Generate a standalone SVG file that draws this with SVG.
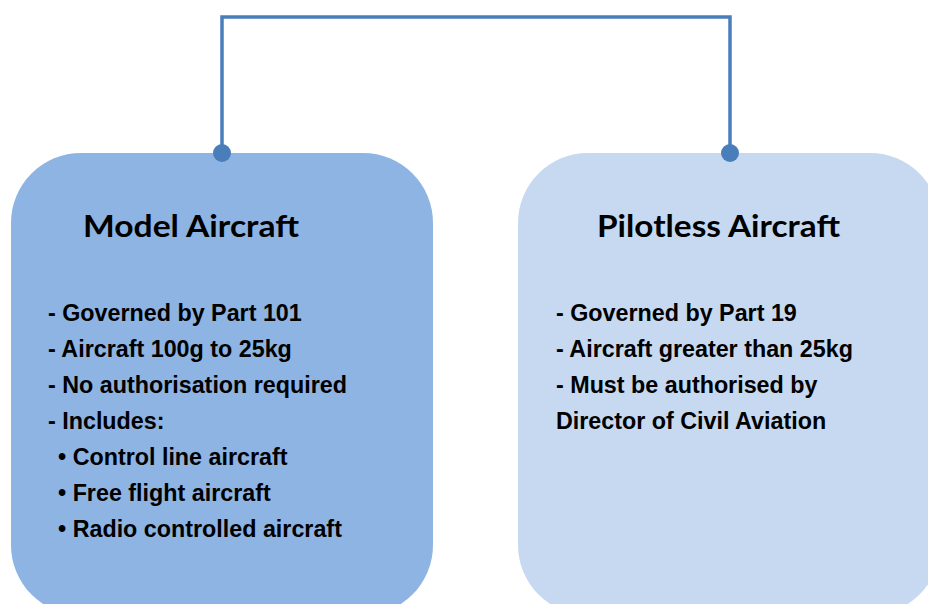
<svg xmlns="http://www.w3.org/2000/svg" width="928" height="604" viewBox="0 0 928 604">
<style>
.title{font-family:Lato,"Open Sans",sans-serif;font-weight:bold;font-size:31px;fill:#000}
.body{font-family:"Liberation Sans",Arial,sans-serif;font-weight:bold;font-size:23.3px;fill:#000}
.conn{fill:none;stroke:#4A7EBB;stroke-width:3.5}
.dot{fill:#4A7EBB}
</style>
<rect width="928" height="604" fill="#fff"/>
<g id="model-aircraft">
<rect x="11" y="153" width="422" height="462" rx="70" ry="70" fill="#8EB4E3"/>
<text class="title" x="83" y="237" textLength="216" lengthAdjust="spacingAndGlyphs">Model Aircraft</text>
<text class="body" x="48" y="321">- Governed by Part 101</text>
<text class="body" x="48" y="357">- Aircraft 100g to 25kg</text>
<text class="body" x="48" y="393">- No authorisation required</text>
<text class="body" x="48" y="429">- Includes:</text>
<text class="body" x="58" y="465">• Control line aircraft</text>
<text class="body" x="58" y="501">• Free flight aircraft</text>
<text class="body" x="58" y="537">• Radio controlled aircraft</text>
</g>
<g id="pilotless-aircraft">
<rect x="518" y="153" width="422" height="462" rx="70" ry="70" fill="#C6D9F1"/>
<text class="title" x="597" y="237" textLength="243" lengthAdjust="spacingAndGlyphs">Pilotless Aircraft</text>
<text class="body" x="556" y="321">- Governed by Part 19</text>
<text class="body" x="556" y="357">- Aircraft greater than 25kg</text>
<text class="body" x="556" y="393">- Must be authorised by</text>
<text class="body" x="556" y="429">Director of Civil Aviation</text>
</g>
<g id="connectors">
<path class="conn" d="M222,153 V17 H730 V153"/>
<circle class="dot" cx="222" cy="153" r="9"/>
<circle class="dot" cx="730" cy="153" r="9"/>
</g>
</svg>
